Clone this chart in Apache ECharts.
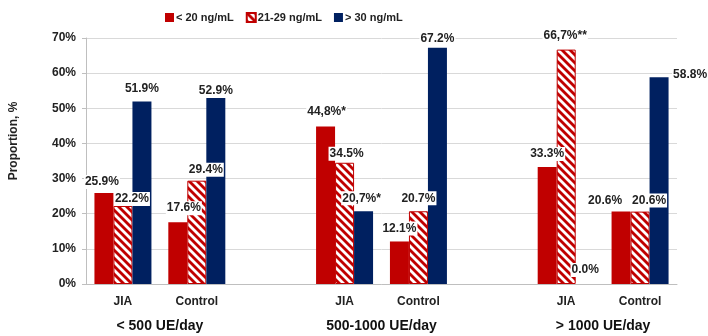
<!DOCTYPE html>
<html>
<head>
<meta charset="utf-8">
<script src="https://cdn.jsdelivr.net/npm/echarts@6/dist/echarts.min.js"></script>
<style>
  html, body { margin: 0; padding: 0; background: #fff; }
  #main { width: 708px; height: 336px; }
</style>
</head>
<body>
<div id="main"></div>
<script>
// categories (empty slots give the gap between the dose groups)
const categories = ['JIA', 'Control', '', 'JIA', 'Control', '', 'JIA', 'Control']
const groupLabels = ['', '< 500 UE/day', '', '', '500-1000 UE/day', '', '', '> 1000 UE/day', '']
const seriesNames = ['< 20 ng/mL', '21-29 ng/mL', '> 30 ng/mL']

// values, %
const low = [25.9, 17.6, '-', 44.8, 12.1, '-', 33.3, 20.6]
const mid = [22.2, 29.4, '-', 34.5, 20.7, '-', 66.7, 20.6]
const high = [51.9, 52.9, '-', 20.7, 67.2, '-', 0.0, 58.8]

// printed labels
const lowText = ['25.9%', '17.6%', '', '44,8%*', '12.1%', '', '33.3%', '20.6%']
const midText = ['22.2%', '29.4%', '', '34.5%', '20.7%', '', '66,7%**', '20.6%']
const highText = ['51.9%', '52.9%', '', '20,7%*', '67.2%', '', '0.0%', '58.8%']

const yTicks = [0, 10, 20, 30, 40, 50, 60, 70]

// label nudges so they sit like in the original
const lowShift = [[-2, 0], [6, -3], null, [1, -4], [0, -2], null, [0, -2], [-16, 0]]
const midShift = [[9, 4], [9, 0], null, [2, 2], [0, -2], null, [-1, -3], [9, 0]]
const highShift = [[0, -2], [0, 4], null, [-2, -2], [0, 2], null, [0, -3], [31, 8]]

const RED = '#C00000'
const BLUE = '#002060'

function hatch () {
  let c = document.createElement('canvas')
  c.width = 8
  c.height = 8
  let ctx = c.getContext('2d')
  ctx.fillStyle = '#fff'
  ctx.fillRect(0, 0, 8, 8)
  ctx.strokeStyle = RED
  ctx.lineWidth = 2.8
  for (let x = -8; x <= 8; x += 8) {
    ctx.beginPath()
    ctx.moveTo(x - 1, -1)
    ctx.lineTo(x + 9, 9)
    ctx.stroke()
  }
  return c
}

function build (values, texts, shifts) {
  return values.map(function (v, i) {
    if (v === '-') return '-'
    return { value: v, label: { offset: shifts[i] || [0, 0] }, text: texts[i] }
  })
}

const labelStyle = {
  show: true,
  position: 'top',
  distance: 4,
  fontFamily: 'Liberation Sans',
  fontWeight: 'bold',
  fontSize: 12,
  color: '#222',
  backgroundColor: '#fff',
  padding: [1, 1, 1, 1],
  formatter: function (p) { return p.data.text }
}

let myChart = echarts.init(document.getElementById('main'))
let option = {
  animation: false,
  textStyle: { fontFamily: 'Liberation Sans' },
  legend: {
    left: 160,
    top: 7,
    itemWidth: 9,
    itemHeight: 9,
    itemGap: 12,
    icon: 'rect',
    textStyle: {
      fontFamily: 'Liberation Sans',
      fontWeight: 'bold',
      fontSize: 11,
      color: '#222',
      padding: [0, 0, 0, -3]
    },
    data: seriesNames
  },
  grid: { left: 82, right: 31, top: 38, bottom: 52 },
  xAxis: [{
    type: 'category',
    data: categories,
    axisLine: { lineStyle: { color: '#bfbfbf' } },
    axisTick: { show: false },
    axisLabel: { interval: 0, margin: 12, fontWeight: 'bold', fontSize: 12, color: '#222' }
  }, {
    type: 'category',
    position: 'bottom',
    offset: 23,
    boundaryGap: false,
    data: groupLabels,
    axisLine: { show: false },
    axisTick: { show: false },
    axisLabel: { interval: 0, margin: 12, fontWeight: 'bold', fontSize: 14, color: '#111' }
  }],
  yAxis: {
    type: 'value',
    min: yTicks[0],
    max: yTicks[yTicks.length - 1],
    interval: 10,
    name: 'Proportion, %',
    nameLocation: 'middle',
    nameGap: 66,
    nameTextStyle: { fontWeight: 'bold', fontSize: 12, color: '#222', padding: [0, 0, 0, 40] },
    axisLine: { show: true, lineStyle: { color: '#bfbfbf' } },
    axisTick: { show: true, length: 4, lineStyle: { color: '#bfbfbf' } },
    axisLabel: { formatter: '{value}%', margin: 10, fontWeight: 'bold', fontSize: 12, color: '#222' },
    splitLine: { lineStyle: { color: '#d9d9d9' } }
  },
  series: [{
    name: seriesNames[0],
    type: 'bar',
    barWidth: 19,
    barGap: '0%',
    itemStyle: { color: RED },
    label: labelStyle,
    data: build(low, lowText, lowShift)
  }, {
    name: seriesNames[1],
    type: 'bar',
    barWidth: 19,
    barGap: '0%',
    itemStyle: { color: { image: hatch(), repeat: 'repeat' }, borderColor: RED, borderWidth: 1 },
    label: labelStyle,
    data: build(mid, midText, midShift)
  }, {
    name: seriesNames[2],
    type: 'bar',
    barWidth: 19,
    barGap: '0%',
    itemStyle: { color: BLUE },
    label: labelStyle,
    data: build(high, highText, highShift)
  }]
}
myChart.setOption(option, true)
</script>
</body>
</html>
